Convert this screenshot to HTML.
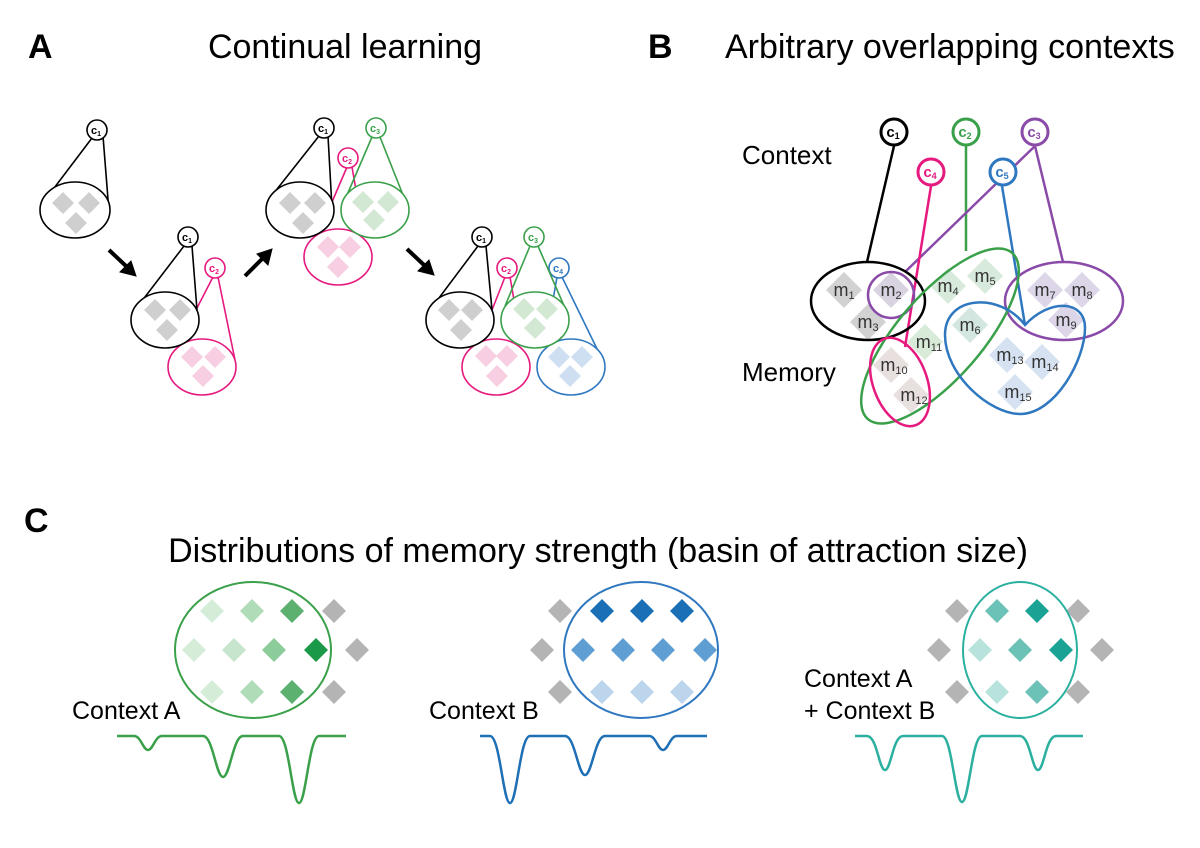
<!DOCTYPE html>
<html><head><meta charset="utf-8"><style>
html,body{margin:0;padding:0;background:#fff;}
svg{display:block;font-family:"Liberation Sans",Arial,sans-serif;}
</style></head><body>
<svg width="1200" height="848" viewBox="0 0 1200 848" xmlns="http://www.w3.org/2000/svg">
<defs>
<g id="d"><path d="M0,-11 L11,0 L0,11 L-11,0 Z"/></g>
<g id="D"><path d="M0,-18 L18,0 L0,18 L-18,0 Z"/></g>
<g id="s"><path d="M0,-12 L12,0 L0,12 L-12,0 Z"/></g>
</defs>
<!-- Titles -->
<text x="28" y="58" font-size="34" font-weight="bold">A</text>
<text x="345" y="58" font-size="34" text-anchor="middle">Continual learning</text>
<text x="648" y="58" font-size="34" font-weight="bold">B</text>
<text x="725" y="58" font-size="34">Arbitrary overlapping contexts</text>
<text x="24" y="532" font-size="34" font-weight="bold">C</text>
<text x="598" y="562" font-size="34" text-anchor="middle">Distributions of memory strength (basin of attraction size)</text>

<!-- Panel A -->
<g fill="none" stroke-width="1.6">
<!-- G1 -->
<g stroke="#000"><line x1="92" y1="138" x2="42" y2="204"/><line x1="103" y1="136" x2="109" y2="212"/>
<ellipse cx="75" cy="210" rx="35" ry="28" fill="#fff"/><circle cx="97" cy="130" r="10" fill="#fff"/></g>
<g fill="#cfcfcf" stroke="none"><use href="#d" x="63" y="203"/><use href="#d" x="89" y="203"/><use href="#d" x="76" y="223"/></g>

<!-- G2 -->
<g stroke="#e6197f"><line x1="213" y1="277" x2="197" y2="308"/><line x1="218" y1="277" x2="235" y2="360"/>
<ellipse cx="202" cy="367" rx="34" ry="28" fill="#fff"/><circle cx="215" cy="268" r="10" fill="#fff"/></g>
<g stroke="#000"><line x1="184" y1="246" x2="135" y2="310"/><line x1="192" y1="246" x2="197" y2="310"/>
<ellipse cx="165" cy="320" rx="34" ry="28" fill="#fff"/><circle cx="188" cy="237" r="10" fill="#fff"/></g>
<g fill="#cfcfcf" stroke="none"><use href="#d" x="155" y="310"/><use href="#d" x="180" y="310"/><use href="#d" x="167" y="330"/></g>
<g fill="#f8cfe2" stroke="none"><use href="#d" x="192" y="357"/><use href="#d" x="215" y="357"/><use href="#d" x="203" y="376"/></g>

<!-- G3 -->
<g stroke="#e6197f"><line x1="347" y1="167" x2="332" y2="202"/><line x1="352" y1="167" x2="356" y2="190"/>
<ellipse cx="338" cy="257" rx="34" ry="28" fill="#fff"/><circle cx="348" cy="158" r="10" fill="#fff"/></g>
<g stroke="#3aa04a"><line x1="372" y1="137" x2="347" y2="195"/><line x1="380" y1="137" x2="405" y2="200"/>
<ellipse cx="375" cy="210" rx="34" ry="28" fill="#fff"/><circle cx="376" cy="128" r="10" fill="#fff"/></g>
<g stroke="#000"><line x1="319" y1="136" x2="270" y2="198"/><line x1="328" y1="136" x2="332" y2="208"/>
<ellipse cx="300" cy="210" rx="34" ry="28" fill="#fff"/><circle cx="324" cy="128" r="10" fill="#fff"/></g>
<g fill="#cfcfcf" stroke="none"><use href="#d" x="290" y="203"/><use href="#d" x="315" y="203"/><use href="#d" x="303" y="223"/></g>
<g fill="#d3e8d3" stroke="none"><use href="#d" x="363" y="202"/><use href="#d" x="388" y="202"/><use href="#d" x="374" y="220"/></g>
<g fill="#f8cfe2" stroke="none"><use href="#d" x="328" y="247"/><use href="#d" x="350" y="247"/><use href="#d" x="338" y="267"/></g>

<!-- G4 -->
<g stroke="#e6197f"><line x1="505" y1="277" x2="492" y2="310"/><line x1="510" y1="277" x2="514" y2="300"/>
<ellipse cx="496" cy="367" rx="34" ry="28" fill="#fff"/><circle cx="507" cy="268" r="10" fill="#fff"/></g>
<g stroke="#2f78c0"><line x1="557" y1="277" x2="553" y2="300"/><line x1="562" y1="277" x2="600" y2="355"/>
<ellipse cx="571" cy="367" rx="34" ry="28" fill="#fff"/><circle cx="559" cy="268" r="10" fill="#fff"/></g>
<g stroke="#3aa04a"><line x1="530" y1="246" x2="505" y2="306"/><line x1="538" y1="246" x2="565" y2="308"/>
<ellipse cx="535" cy="320" rx="34" ry="28" fill="#fff"/><circle cx="534" cy="237" r="10" fill="#fff"/></g>
<g stroke="#000"><line x1="478" y1="246" x2="430" y2="310"/><line x1="486" y1="246" x2="492" y2="310"/>
<ellipse cx="460" cy="320" rx="34" ry="28" fill="#fff"/><circle cx="482" cy="237" r="10" fill="#fff"/></g>
<g fill="#cfcfcf" stroke="none"><use href="#d" x="449" y="310"/><use href="#d" x="472" y="310"/><use href="#d" x="461" y="330"/></g>
<g fill="#d3e8d3" stroke="none"><use href="#d" x="524" y="309"/><use href="#d" x="547" y="309"/><use href="#d" x="535" y="328"/></g>
<g fill="#f8cfe2" stroke="none"><use href="#d" x="486" y="356"/><use href="#d" x="507" y="356"/><use href="#d" x="497" y="376"/></g>
<g fill="#cfdff2" stroke="none"><use href="#d" x="559" y="357"/><use href="#d" x="582" y="357"/><use href="#d" x="570" y="376"/></g>
</g>
<!-- c labels panel A -->
<g font-size="11" font-weight="bold" text-anchor="middle">
<text x="96" y="134">c<tspan font-size="7" dy="2">1</tspan></text>
<text x="187" y="241">c<tspan font-size="7" dy="2">1</tspan></text>
<text x="214" y="272" fill="#e6197f">c<tspan font-size="7" dy="2">2</tspan></text>
<text x="323" y="132">c<tspan font-size="7" dy="2">1</tspan></text>
<text x="347" y="162" fill="#e6197f">c<tspan font-size="7" dy="2">2</tspan></text>
<text x="375" y="132" fill="#3aa04a">c<tspan font-size="7" dy="2">3</tspan></text>
<text x="481" y="241">c<tspan font-size="7" dy="2">1</tspan></text>
<text x="506" y="272" fill="#e6197f">c<tspan font-size="7" dy="2">2</tspan></text>
<text x="533" y="241" fill="#3aa04a">c<tspan font-size="7" dy="2">3</tspan></text>
<text x="558" y="272" fill="#2f78c0">c<tspan font-size="7" dy="2">4</tspan></text>
</g>
<!-- arrows -->
<g stroke="#000" stroke-width="4" fill="#000">
<line x1="109" y1="250" x2="126" y2="266"/><path d="M136,276 L120,272 L131,261 Z" stroke-width="1"/>
<line x1="245" y1="276" x2="262" y2="259"/><path d="M272,249 L268,265 L257,254 Z" stroke-width="1"/>
<line x1="407" y1="249" x2="424" y2="265"/><path d="M434,275 L418,271 L429,260 Z" stroke-width="1"/>
</g>

<!-- Panel B -->
<text x="742" y="164" font-size="26">Context</text>
<text x="742" y="381" font-size="26">Memory</text>
<g stroke-width="2.5" fill="none">
<line x1="894" y1="146" x2="867" y2="262" stroke="#000"/>
<line x1="966" y1="146" x2="966" y2="251" stroke="#3aa04a"/>
<line x1="1035" y1="146" x2="1063" y2="262" stroke="#8a4aa8"/>
<line x1="1035" y1="146" x2="905" y2="272" stroke="#8a4aa8"/>
<line x1="931" y1="186" x2="905" y2="347" stroke="#e6197f"/>
<line x1="1002" y1="186" x2="1025" y2="325" stroke="#2f78c0"/>
</g>
<!-- B diamonds -->
<g stroke="none">
<use href="#D" x="844" y="290" fill="#d2d2d2"/><use href="#D" x="891" y="290" fill="#d9d2e0"/><use href="#D" x="868" y="322" fill="#d2d2d2"/>
<use href="#D" x="948" y="286" fill="#d7eadb"/><use href="#D" x="985" y="276" fill="#d7eadb"/><use href="#D" x="970" y="325" fill="#d3e6df"/>
<use href="#D" x="1045" y="290" fill="#ddd6e8"/><use href="#D" x="1082" y="290" fill="#ddd6e8"/><use href="#D" x="1066" y="320" fill="#ddd6e8"/>
<use href="#D" x="891" y="365" fill="#e8dfdf"/><use href="#D" x="925" y="342" fill="#d8ebd8"/><use href="#D" x="911" y="395" fill="#e8dfdf"/>
<use href="#D" x="1007" y="355" fill="#d6e2f2"/><use href="#D" x="1042" y="362" fill="#d6e2f2"/><use href="#D" x="1015" y="392" fill="#d6e2f2"/>
</g>
<g stroke-width="2.5" fill="none">
<ellipse cx="868" cy="301" rx="57" ry="39" stroke="#000"/>
<circle cx="891" cy="295" r="23" stroke="#8a4aa8"/>
<ellipse cx="1064" cy="301" rx="59" ry="39" stroke="#8a4aa8"/>
<ellipse cx="940" cy="336" rx="110" ry="42" transform="rotate(-49 940 336)" stroke="#3aa04a"/>
<ellipse cx="900" cy="382" rx="27" ry="46" transform="rotate(-20 900 382)" stroke="#e6197f"/>
<path d="M1025,325 C1000,292 945,295 945,335 C945,375 990,414 1020,414 C1055,414 1085,360 1085,328 C1085,300 1050,298 1025,325 Z" stroke="#2f78c0"/>
</g>
<g stroke-width="3" fill="#fff">
<circle cx="894" cy="132" r="13" stroke="#000"/>
<circle cx="966" cy="132" r="13" stroke="#3aa04a"/>
<circle cx="1035" cy="132" r="13" stroke="#8a4aa8"/>
<circle cx="931" cy="172" r="13" stroke="#e6197f"/>
<circle cx="1003" cy="172" r="13" stroke="#2f78c0"/>
</g>
<g font-size="15" font-weight="bold" text-anchor="middle">
<text x="893" y="137">c<tspan font-size="9" dy="2">1</tspan></text>
<text x="965" y="137" fill="#3aa04a">c<tspan font-size="9" dy="2">2</tspan></text>
<text x="1034" y="137" fill="#8a4aa8">c<tspan font-size="9" dy="2">3</tspan></text>
<text x="930" y="177" fill="#e6197f">c<tspan font-size="9" dy="2">4</tspan></text>
<text x="1002" y="177" fill="#2f78c0">c<tspan font-size="9" dy="2">5</tspan></text>
</g>
<g font-size="18" fill="#333" text-anchor="middle">
<text x="844" y="296">m<tspan font-size="11" dy="3">1</tspan></text>
<text x="891" y="296">m<tspan font-size="11" dy="3">2</tspan></text>
<text x="868" y="328">m<tspan font-size="11" dy="3">3</tspan></text>
<text x="948" y="292">m<tspan font-size="11" dy="3">4</tspan></text>
<text x="985" y="282">m<tspan font-size="11" dy="3">5</tspan></text>
<text x="970" y="331">m<tspan font-size="11" dy="3">6</tspan></text>
<text x="1045" y="296">m<tspan font-size="11" dy="3">7</tspan></text>
<text x="1082" y="296">m<tspan font-size="11" dy="3">8</tspan></text>
<text x="1066" y="326">m<tspan font-size="11" dy="3">9</tspan></text>
<text x="894" y="371">m<tspan font-size="11" dy="3">10</tspan></text>
<text x="929" y="348">m<tspan font-size="11" dy="3">11</tspan></text>
<text x="914" y="401">m<tspan font-size="11" dy="3">12</tspan></text>
<text x="1010" y="361">m<tspan font-size="11" dy="3">13</tspan></text>
<text x="1045" y="368">m<tspan font-size="11" dy="3">14</tspan></text>
<text x="1018" y="398">m<tspan font-size="11" dy="3">15</tspan></text>
</g>

<!-- Panel C -->
<g stroke="none">
<use href="#s" x="212" y="611" fill="#d5ecd8"/><use href="#s" x="252" y="611" fill="#b0dcb8"/><use href="#s" x="292" y="611" fill="#5cb070"/><use href="#s" x="334" y="611" fill="#b4b4b4"/>
<use href="#s" x="194" y="650" fill="#d5ecd8"/><use href="#s" x="234" y="650" fill="#c6e5cc"/><use href="#s" x="274" y="650" fill="#8ccb9a"/><use href="#s" x="316" y="650" fill="#1a9a48"/><use href="#s" x="357" y="650" fill="#b4b4b4"/>
<use href="#s" x="212" y="692" fill="#d5ecd8"/><use href="#s" x="252" y="692" fill="#b0dcb8"/><use href="#s" x="292" y="692" fill="#5cb070"/><use href="#s" x="334" y="692" fill="#b4b4b4"/>
<use href="#s" x="560" y="611" fill="#b4b4b4"/><use href="#s" x="602" y="611" fill="#1a6fb5"/><use href="#s" x="642" y="611" fill="#1a6fb5"/><use href="#s" x="682" y="611" fill="#1a6fb5"/>
<use href="#s" x="542" y="650" fill="#b4b4b4"/><use href="#s" x="583" y="650" fill="#5f9ed3"/><use href="#s" x="623" y="650" fill="#5f9ed3"/><use href="#s" x="663" y="650" fill="#5f9ed3"/><use href="#s" x="705" y="650" fill="#5f9ed3"/>
<use href="#s" x="560" y="692" fill="#b4b4b4"/><use href="#s" x="602" y="692" fill="#bcd4ec"/><use href="#s" x="642" y="692" fill="#bcd4ec"/><use href="#s" x="682" y="692" fill="#bcd4ec"/>
<use href="#s" x="957" y="611" fill="#b4b4b4"/><use href="#s" x="997" y="611" fill="#6cc2b6"/><use href="#s" x="1037" y="611" fill="#1aa394"/><use href="#s" x="1078" y="611" fill="#b4b4b4"/>
<use href="#s" x="939" y="650" fill="#b4b4b4"/><use href="#s" x="980" y="650" fill="#b8e2dc"/><use href="#s" x="1020" y="650" fill="#6cc2b6"/><use href="#s" x="1061" y="650" fill="#1aa394"/><use href="#s" x="1102" y="650" fill="#b4b4b4"/>
<use href="#s" x="957" y="692" fill="#b4b4b4"/><use href="#s" x="997" y="692" fill="#b8e2dc"/><use href="#s" x="1037" y="692" fill="#6cc2b6"/><use href="#s" x="1078" y="692" fill="#b4b4b4"/>
</g>
<g fill="none" stroke-width="2">
<ellipse cx="253" cy="650" rx="78" ry="68" stroke="#3aa04a"/>
<ellipse cx="641" cy="650" rx="77" ry="68" stroke="#2f78c0"/>
<ellipse cx="1020" cy="650" rx="57" ry="68" stroke="#2bb0a0"/>
</g>
<g fill="none" stroke-width="2.5">
<path stroke="#3aa04a" d="M117,736 L134,736 C141,736 143,750 148,750 C153,750 155,736 162,736 L203,736 C213,736 216,777 223,777 C230,777 233,736 243,736 L279,736 C289,736 292,803 299,803 C306,803 309,736 319,736 L346,736"/>
<path stroke="#1f6fb5" d="M480,736 L490,736 C500,736 503,803 510,803 C517,803 520,736 530,736 L565,736 C575,736 578,775 585,775 C592,775 595,736 605,736 L649,736 C656,736 658,750 663,750 C668,750 670,736 677,736 L707,736"/>
<path stroke="#2bb0a0" d="M855,736 L867,736 C877,736 879,770 885,770 C891,770 893,736 903,736 L942,736 C952,736 955,802 962,802 C969,802 972,736 982,736 L1020,736 C1030,736 1032,770 1038,770 C1044,770 1046,736 1056,736 L1083,736"/>
</g>
<g font-size="25">
<text x="72" y="719">Context A</text>
<text x="429" y="719">Context B</text>
<text x="804" y="687">Context A</text>
<text x="804" y="719">+ Context B</text>
</g>
</svg>
</body></html>
